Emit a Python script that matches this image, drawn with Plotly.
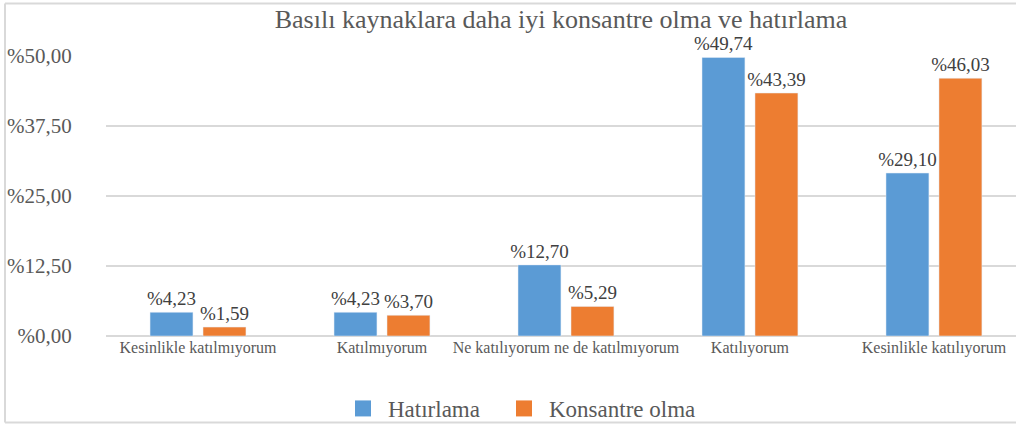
import plotly.graph_objects as go

categories = ["Kesinlikle katılmıyorum", "Katılmıyorum", "Ne katılıyorum ne de katılmıyorum",
              "Katılıyorum", "Kesinlikle katılıyorum"]
hatirlama = [4.23, 4.23, 12.70, 49.74, 29.10]
konsantre = [1.59, 3.70, 5.29, 43.39, 46.03]
series_names = ["Hatırlama", "Konsantre olma"]
series_colors = ["#5B9BD5", "#ED7D31"]
tick_vals = [0, 12.5, 25, 37.5, 50]
tick_text = ["%0,00", "%12,50", "%25,00", "%37,50", "%50,00"]

def fmt(v):
    return "%" + f"{v:.2f}".replace(".", ",")

FONT = "Liberation Serif"

L, R, T, B = 106, 0, 56, 92
W, H = 1016, 430
pw, ph = W - L - R, H - T - B

def px(x):
    return (x - L) / pw

def py(y):
    return (H - B - y) / ph

fig = go.Figure()
for name, vals, col in zip(series_names, [hatirlama, konsantre], series_colors):
    fig.add_trace(go.Bar(name=name, x=categories, y=vals,
                         marker_color=col, showlegend=False,
                         text=[fmt(v) for v in vals], textposition="outside",
                         cliponaxis=False, constraintext="none",
                         textfont=dict(family=FONT, size=19, color="#404040")))
legend_ids = ["legend", "legend2"]
for name, col, lid in zip(series_names, series_colors, legend_ids):
    fig.add_trace(go.Scatter(name=name, x=[None], y=[None], mode="markers",
                             marker=dict(symbol="square", size=20, color=col),
                             showlegend=True, legend=lid))

border = dict(color="#D9D9D9", width=2)
shapes = [
    dict(type="line", xref="paper", yref="paper", x0=px(5), x1=px(1016), y0=py(3), y1=py(3), line=border),
    dict(type="line", xref="paper", yref="paper", x0=px(5), x1=px(5), y0=py(3), y1=py(425), line=border),
    dict(type="line", xref="paper", yref="paper", x0=px(5), x1=px(1016), y0=py(425), y1=py(425), line=border),
]

leg_common = dict(orientation="h", xanchor="left", y=py(411), yanchor="middle",
                  font=dict(family=FONT, size=23, color="#595959"),
                  bgcolor="rgba(0,0,0,0)", itemwidth=40)

fig.update_layout(
    width=W, height=H,
    margin=dict(l=L, r=R, t=T, b=B),
    paper_bgcolor="white", plot_bgcolor="white",
    barmode="group", bargap=0.424, bargroupgap=0.19,
    title=dict(text="Basılı kaynaklara daha iyi konsantre olma ve hatırlama",
               x=0.5, xref="paper", xanchor="center",
               y=1 - 19 / H, yref="container", yanchor="middle",
               font=dict(family=FONT, size=26, color="#595959")),
    font=dict(family=FONT, color="#595959"),
    legend=dict(x=px(338), **leg_common),
    legend2=dict(x=px(499), **leg_common),
    shapes=shapes,
)
fig.update_xaxes(showgrid=False, showline=False, ticks="", range=[-0.5, 4.446],
                 tickfont=dict(family=FONT, size=16, color="#595959"))
fig.update_yaxes(range=[0, 50], tickvals=tick_vals, ticktext=tick_text,
                 showgrid=True, gridcolor="#D9D9D9", gridwidth=2,
                 zeroline=True, zerolinecolor="#D9D9D9", zerolinewidth=2,
                 ticks="outside", ticklen=29, tickcolor="rgba(0,0,0,0)",
                 tickfont=dict(family=FONT, size=21, color="#595959"))

fig.write_html("out.html", config={"displayModeBar": False})

with open("out.html", encoding="utf-8") as f:
    html = f.read()
html = html.replace("<head>", "<head><style>html,body{margin:0;padding:0;overflow:hidden}</style>", 1)
with open("out.html", "w", encoding="utf-8") as f:
    f.write(html)
